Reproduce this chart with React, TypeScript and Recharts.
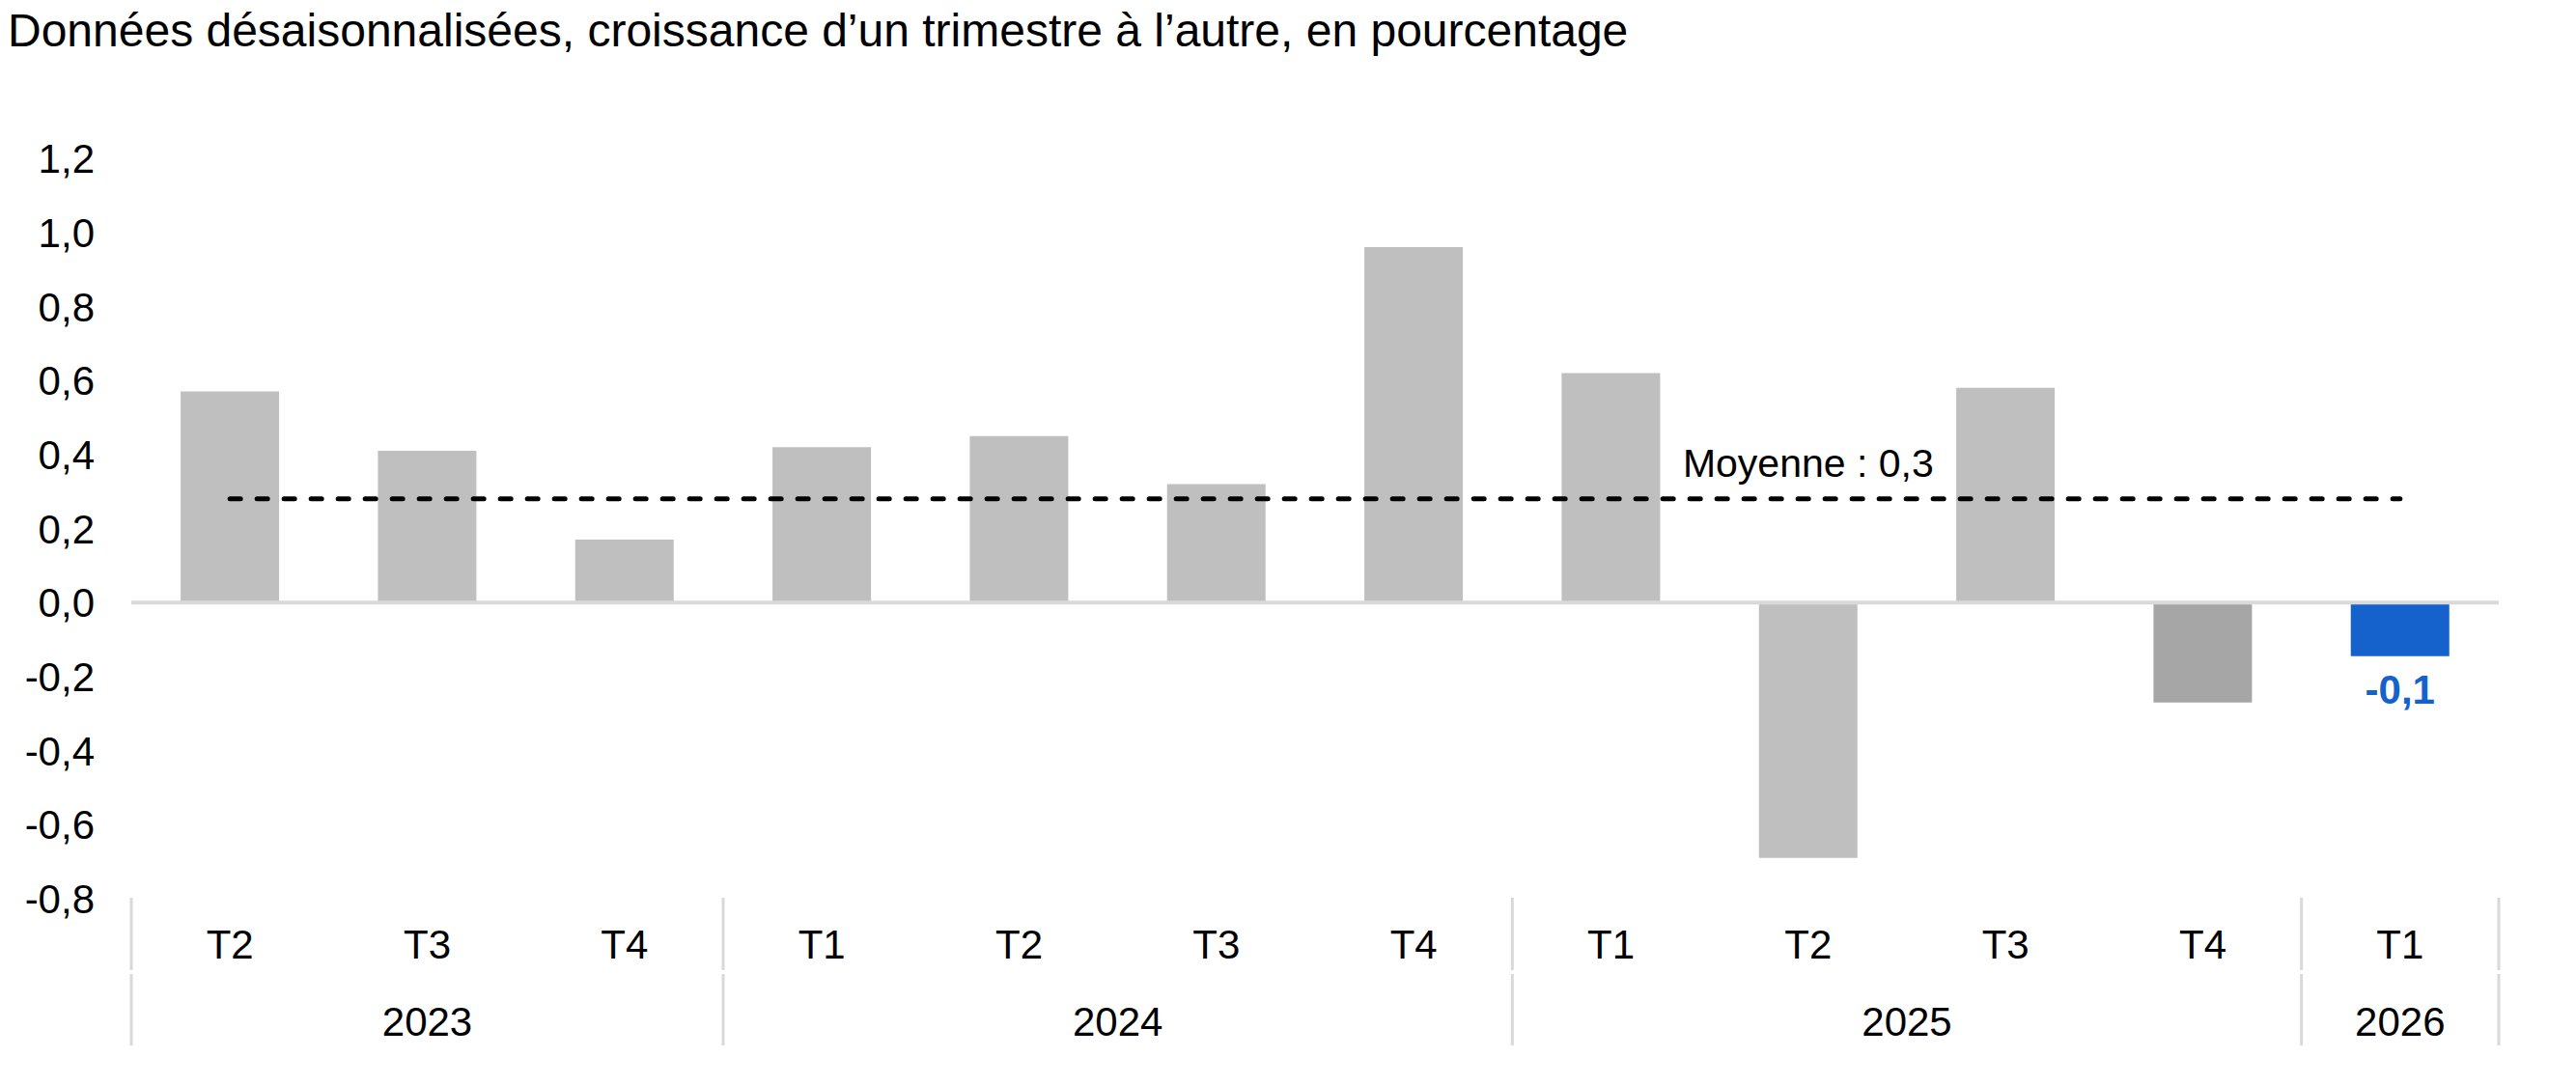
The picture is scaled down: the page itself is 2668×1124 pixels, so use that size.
import { Bar, Cell, ComposedChart, LabelList, Line, ReferenceLine, XAxis, YAxis } from 'recharts';

const TITLE = 'Données désaisonnalisées, croissance d’un trimestre à l’autre, en pourcentage';
const AVERAGE_LABEL = 'Moyenne : 0,3';

const quarters = ['T2', 'T3', 'T4', 'T1', 'T2', 'T3', 'T4', 'T1', 'T2', 'T3', 'T4', 'T1'];
const years = ['2023', '2023', '2023', '2024', '2024', '2024', '2024', '2025', '2025', '2025', '2025', '2026'];
const growth = [0.57, 0.41, 0.17, 0.42, 0.45, 0.32, 0.96, 0.62, -0.69, 0.58, -0.27, -0.145];
const average = [0.28, 0.28, 0.28, 0.28, 0.28, 0.28, 0.28, 0.28, 0.28, 0.28, 0.28, 0.28];
const yTicks = [-0.8, -0.6, -0.4, -0.2, 0, 0.2, 0.4, 0.6, 0.8, 1.0, 1.2];

// index of the quarter above which the average label sits
const AVERAGE_LABEL_INDEX = 8;

const FONT = '"Liberation Sans", Arial, Helvetica, sans-serif';
const GRAY = '#BFBFBF';
const DARK_GRAY = '#A6A6A6';
const BLUE = '#1562CD';
const RULE = '#D9D9D9';

const data = quarters.map((q, i) => ({
  key: `${years[i]}-${q}`,
  quarter: q,
  year: years[i],
  growth: growth[i],
  moyenne: average[i],
}));

const fmt = (v: number) => v.toFixed(1).replace('.', ',');

function barColor(i: number) {
  if (i === data.length - 1) return BLUE;
  if (i === data.length - 2) return DARK_GRAY;
  return GRAY;
}

function YTick({ x, y, payload }: any) {
  return (
    <text x={x} y={y} dy="0.36em" textAnchor="end" fontSize={42} fontFamily={FONT} fill="#000">
      {fmt(payload.value)}
    </text>
  );
}

function XTick({ x, y, payload, index, width }: any) {
  const i = payload?.index ?? index;
  const half = payload?.offset || width / data.length / 2;
  const year = years[i];
  const isStart = i === 0 || years[i - 1] !== year;

  // year label goes to the middle of its group of quarters
  let start = i;
  while (start > 0 && years[start - 1] === year) start--;
  let end = i;
  while (end < years.length - 1 && years[end + 1] === year) end++;
  const mid = (start + end) / 2;
  const showYear = i === Math.floor(mid);
  const yearX = x + (mid - Math.floor(mid)) * 2 * half;

  const sep = (sx: number, k: string) => (
    <g key={k}>
      <line x1={sx} x2={sx} y1={y - 1} y2={y + 74} stroke={RULE} strokeWidth={3} />
      <line x1={sx} x2={sx} y1={y + 78} y2={y + 152} stroke={RULE} strokeWidth={3} />
    </g>
  );

  return (
    <g fontFamily={FONT} fontSize={42} fill="#000">
      {isStart && sep(x - half, 's')}
      {i === years.length - 1 && sep(x + half, 'e')}
      <text x={x} y={y + 62} textAnchor="middle">
        {quarters[i]}
      </text>
      {showYear && (
        <text x={yearX} y={y + 142} textAnchor="middle">
          {year}
        </text>
      )}
    </g>
  );
}

function LastBarLabel({ x, y, width, height, index, value }: any) {
  if (index !== data.length - 1) return null;
  const bottom = Math.max(y, y + height);
  return (
    <text
      x={x + width / 2}
      y={bottom + 49}
      textAnchor="middle"
      fontSize={42}
      fontWeight="bold"
      fontFamily={FONT}
      fill={BLUE}
    >
      {fmt(value)}
    </text>
  );
}

function AverageLabel({ x, y, index }: any) {
  if (index !== AVERAGE_LABEL_INDEX) return null;
  return (
    <text x={x} y={y - 23} textAnchor="middle" fontSize={41} fontFamily={FONT} fill="#000">
      {AVERAGE_LABEL}
    </text>
  );
}

export default function App() {
  return (
    <div style={{ position: 'absolute', left: 0, top: 0, width: 2668, height: 1124, background: '#fff' }}>
      <div
        style={{
          position: 'absolute',
          left: 8,
          top: 8,
          fontFamily: FONT,
          fontSize: 48,
          lineHeight: '48px',
          color: '#000',
          whiteSpace: 'nowrap',
        }}
      >
        {TITLE}
      </div>
      <ComposedChart
        width={2668}
        height={1124}
        data={data}
        margin={{ top: 164, right: 80, bottom: 33, left: 0 }}
        barCategoryGap="25%"
      >
        <YAxis
          domain={[-0.8, 1.2]}
          ticks={yTicks}
          width={136}
          axisLine={false}
          tickLine={false}
          tickSize={0}
          tickMargin={38}
          tick={<YTick />}
          interval={0}
        />
        <XAxis
          dataKey="key"
          height={160}
          axisLine={false}
          tickLine={false}
          tickSize={0}
          tickMargin={0}
          interval={0}
          tick={<XTick />}
        />
        <Bar dataKey="growth" isAnimationActive={false}>
          {data.map((_, i) => (
            <Cell key={i} fill={barColor(i)} />
          ))}
          <LabelList dataKey="growth" content={<LastBarLabel />} />
        </Bar>
        <ReferenceLine y={0} stroke={RULE} strokeWidth={4} />
        <Line
          dataKey="moyenne"
          stroke="#000"
          strokeWidth={5}
          strokeDasharray="11 17"
          strokeLinecap="round"
          dot={false}
          activeDot={false}
          isAnimationActive={false}
        >
          <LabelList dataKey="moyenne" content={<AverageLabel />} />
        </Line>
      </ComposedChart>
    </div>
  );
}
